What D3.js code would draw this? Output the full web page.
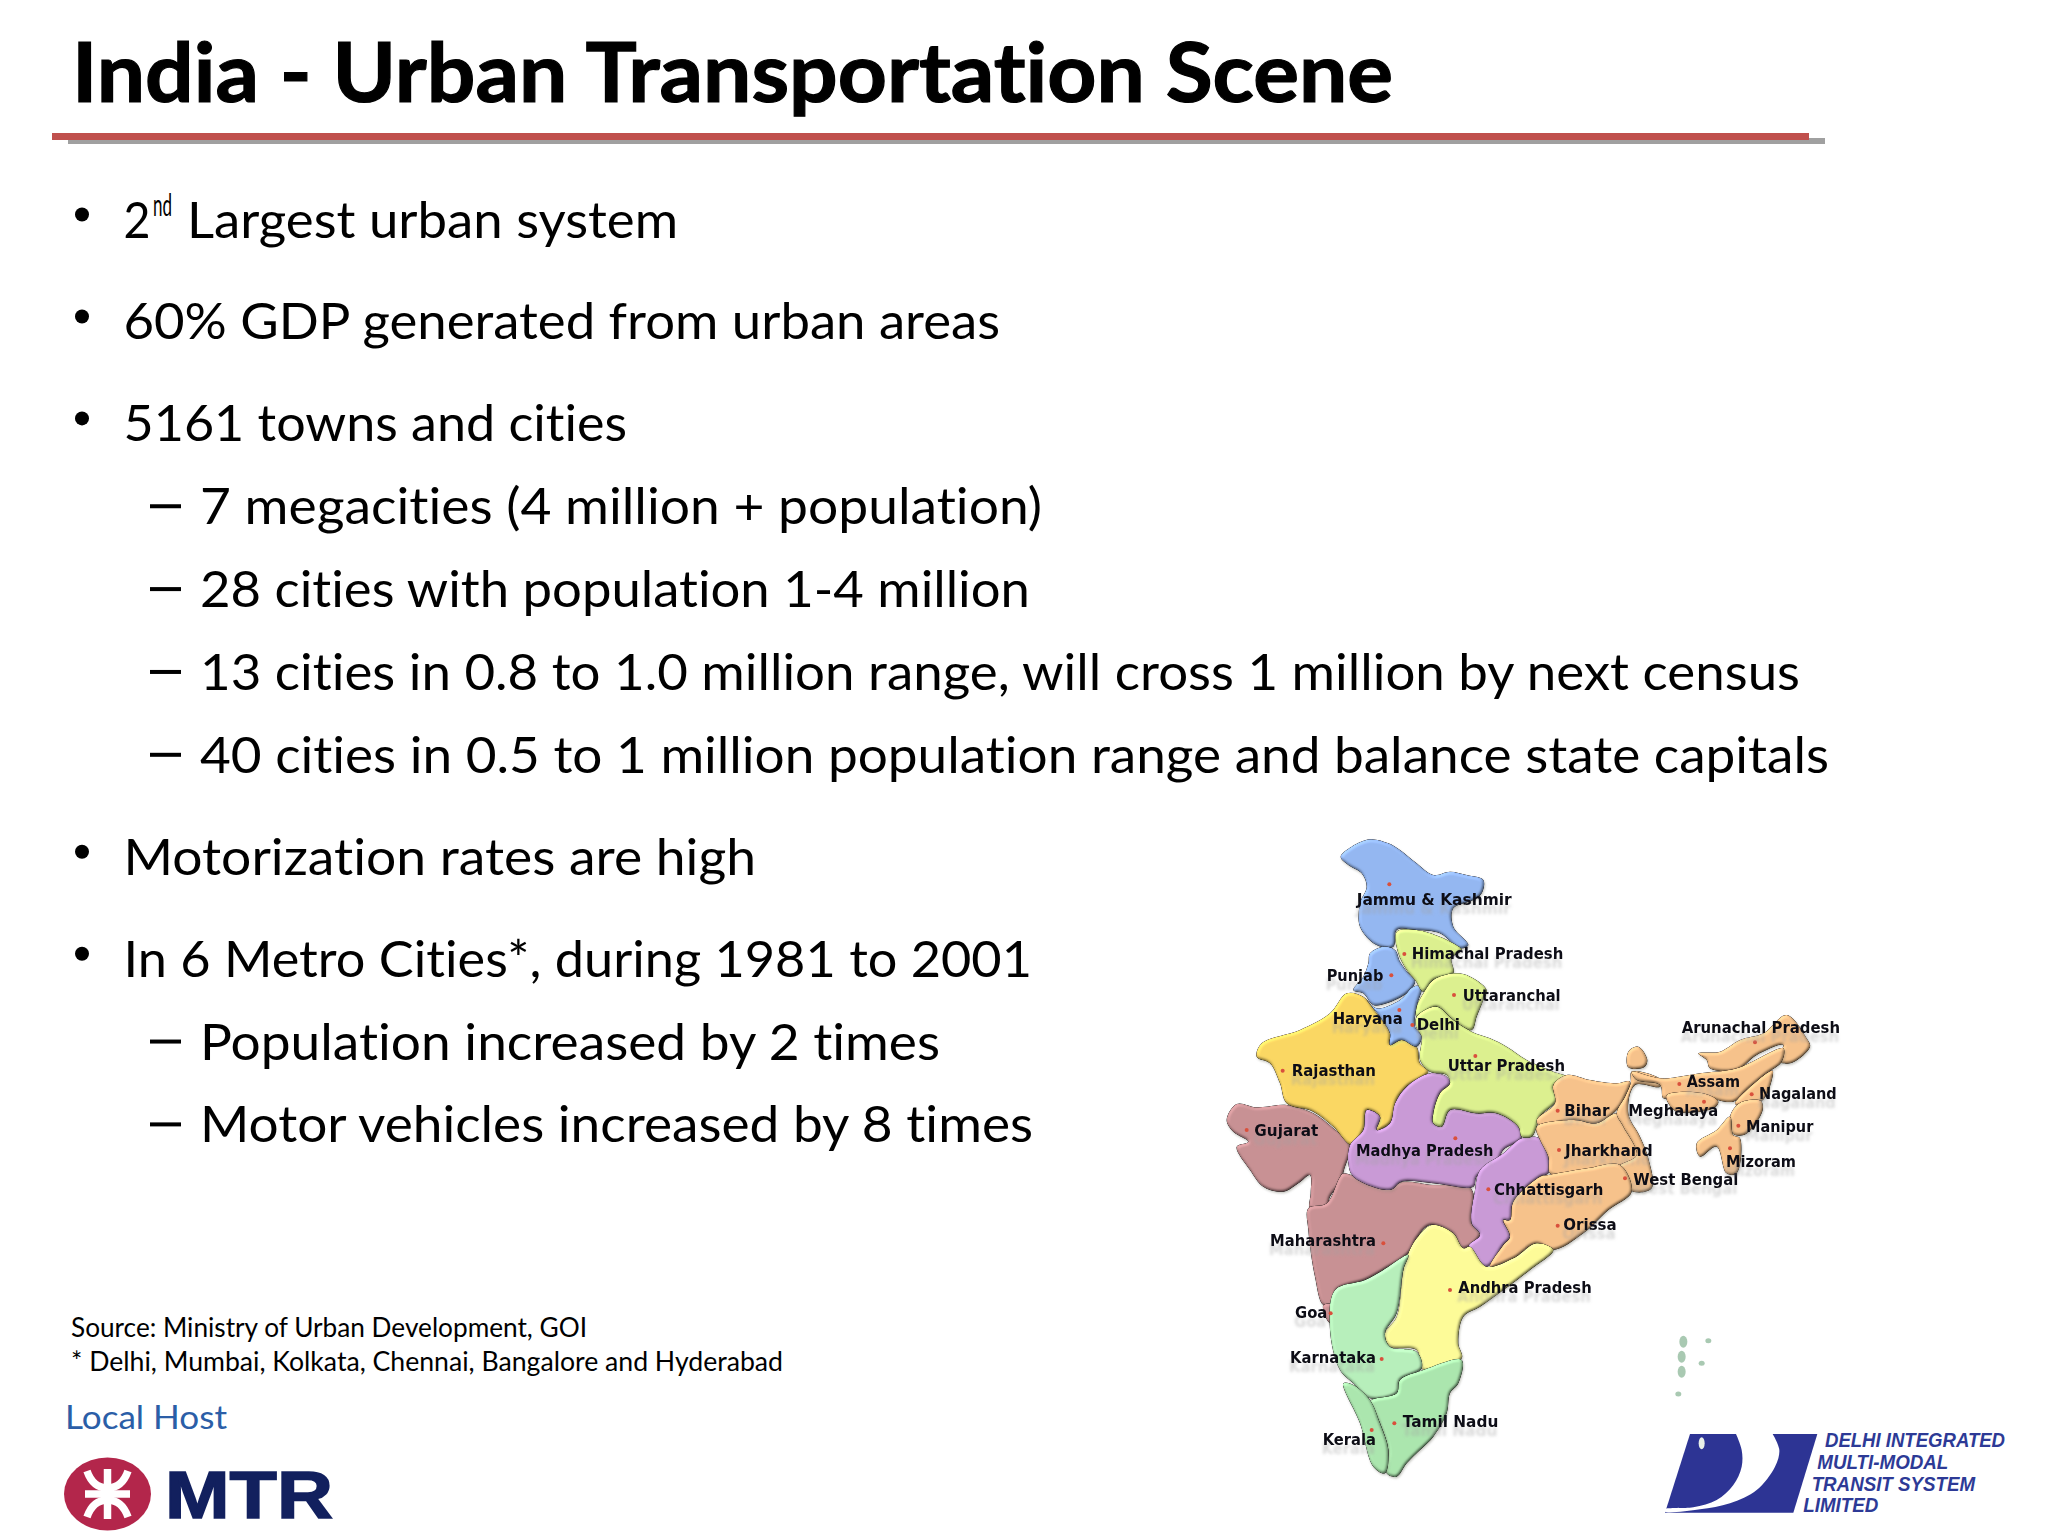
<!DOCTYPE html>
<html>
<head>
<meta charset="utf-8">
<title>India - Urban Transportation Scene</title>
<script src="https://cdn.jsdelivr.net/npm/d3@7"></script>
<style>
  html, body { margin: 0; padding: 0; background: #fff; }
  svg { display: block; }
  text { font-family: Lato, "Open Sans", sans-serif; font-variant-ligatures: none; }
  .st { font-family: "DejaVu Sans", sans-serif; font-weight: bold; }
</style>
</head>
<body>
<div id="slide"></div>
<script>
var width = 2048, height = 1536;

// slide text
var titleText = "India - Urban Transportation Scene";
var lineTexts = [
  "Largest urban system",
  "60% GDP generated from urban areas",
  "5161 towns and cities",
  "7 megacities (4 million + population)",
  "28 cities with population 1-4 million",
  "13 cities in 0.8 to 1.0 million range, will cross 1 million by next census",
  "40 cities in 0.5 to 1 million population range and balance state capitals",
  "Motorization rates are high",
  "In 6 Metro Cities*, during 1981 to 2001",
  "Population increased by 2 times",
  "Motor vehicles increased by 8 times"
];
var lineLevels = [0, 0, 0, 1, 1, 1, 1, 0, 0, 1, 1];
var lineEnds = [678, 1000, 627, 1042, 1030, 1800, 1829, 756, 1032, 940, 1033];
var footTexts = ["Source: Ministry of Urban Development, GOI", "* Delhi, Mumbai, Kolkata, Chennai, Bangalore and Hyderabad"];
var footEnds = [587, 783];
var logoLines = ["DELHI INTEGRATED", "MULTI-MODAL", "TRANSIT SYSTEM", "LIMITED"];
var logoStarts = [495, 472, 455, 430];
var logoEnds = [1035, 865, 945, 655];
var logoBase = [50, 118, 183, 247];

// map: state colours and outlines, in units of the source map picture
var stateNames = ["Gujarat", "Maharashtra", "Goa", "Rajasthan", "Madhya Pradesh", "Chhattisgarh", "Jammu & Kashmir", "Punjab", "Haryana",
  "Himachal Pradesh", "Uttaranchal", "Uttar Pradesh", "Bihar", "Jharkhand", "West Bengal", "Sikkim", "Orissa", "Andhra Pradesh",
  "Karnataka", "Tamil Nadu", "Kerala", "Arunachal Pradesh", "Assam", "Meghalaya", "Nagaland", "Manipur", "Mizoram"];
var stateColors = ["#c89194", "#c89194", "#c89194", "#fad763", "#c99ad6", "#c99ad6", "#94b7f1", "#94b7f1", "#94b7f1",
  "#dcf08f", "#dcf08f", "#dcf08f", "#f6c28b", "#f6c28b", "#f6c28b", "#f6c28b", "#f6c28b", "#fdfb98",
  "#b7efbb", "#abe6ae", "#abe6ae", "#f6c28b", "#f6c28b", "#f6c28b", "#f6c28b", "#f6c28b", "#f6c28b"];
var stateOutlines = [
  [[20,870],[50,822],[110,832],[200,825],[280,850],[340,895],[390,945],[372,1020],[360,1060],[330,1100],[320,1130],[270,1135],[272,1090],[270,1035],[235,1060],[190,1085],[130,1070],[90,1020],[50,950],[85,935],[40,905]],
  [[265,1135],[320,1120],[360,1040],[372,1030],[500,1075],[550,1055],[640,1065],[740,1065],[760,1090],[755,1180],[780,1215],[730,1255],[700,1210],[630,1185],[590,1225],[565,1270],[490,1320],[435,1350],[350,1380],[345,1425],[310,1425],[285,1340],[265,1200]],
  [[310,1425],[345,1425],[340,1480],[325,1475]],
  [[380,490],[430,500],[470,550],[510,610],[510,645],[545,630],[590,650],[600,700],[625,725],[560,770],[530,810],[520,850],[510,880],[470,900],[480,860],[440,840],[430,900],[395,945],[340,890],[280,845],[200,820],[180,760],[150,700],[110,680],[125,640],[240,600],[330,550]],
  [[630,730],[680,740],[690,760],[660,790],[640,850],[640,880],[665,890],[690,840],[770,850],[830,850],[895,890],[905,925],[850,960],[830,1000],[770,1040],[760,1070],[640,1060],[545,1055],[510,1080],[400,1040],[385,1000],[390,945],[430,900],[440,840],[480,860],[470,900],[510,880],[525,820],[560,770]],
  [[905,925],[960,925],[985,980],[985,1030],[960,1040],[880,1115],[870,1170],[850,1170],[870,1220],[850,1245],[800,1310],[745,1250],[780,1215],[755,1180],[765,1080],[780,1020],[850,970]],
  [[362,80],[395,50],[450,28],[505,40],[540,60],[590,100],[640,135],[690,125],[740,135],[790,150],[785,190],[760,210],[700,235],[700,290],[745,345],[720,355],[660,310],[590,300],[530,300],[520,350],[470,345],[420,290],[420,220],[440,170],[425,130],[385,105]],
  [[450,370],[490,350],[525,360],[540,395],[565,430],[585,455],[560,490],[500,520],[460,525],[430,490],[400,480],[430,440],[445,400]],
  [[440,510],[470,535],[540,510],[580,470],[605,470],[590,530],[585,590],[605,620],[590,650],[545,630],[510,645],[510,610],[480,560]],
  [[530,305],[590,300],[660,320],[700,340],[725,360],[695,385],[700,430],[640,450],[610,485],[585,450],[560,420],[535,370]],
  [[640,450],[700,430],[740,435],[800,480],[790,510],[770,560],[755,600],[700,570],[650,530],[590,560],[590,530],[610,490]],
  [[590,560],[650,530],[700,570],[755,605],[810,625],[860,650],[920,690],[1000,725],[1040,740],[1000,770],[1010,810],[960,860],[950,890],[935,920],[905,920],[895,890],[830,850],[770,850],[690,840],[665,890],[640,880],[640,850],[660,790],[690,760],[680,735],[630,725],[600,690],[605,620],[588,590]],
  [[1000,765],[1040,735],[1110,750],[1190,760],[1230,755],[1215,800],[1190,840],[1130,880],[1060,870],[960,890],[950,870],[1005,820]],
  [[950,890],[1060,870],[1130,880],[1190,850],[1230,890],[1270,980],[1200,1010],[1130,1020],[1050,1040],[990,1030],[985,980],[960,930]],
  [[1235,725],[1325,750],[1320,770],[1245,765],[1225,850],[1260,920],[1285,985],[1295,1075],[1240,1085],[1195,1040],[1195,1010],[1250,975],[1210,890],[1190,850],[1215,800],[1232,760]],
  [[1225,665],[1255,650],[1282,690],[1272,712],[1225,712]],
  [[985,1035],[1100,1015],[1200,1005],[1235,1085],[1165,1140],[1090,1210],[1000,1260],[950,1240],[880,1285],[810,1310],[850,1245],[870,1220],[850,1170],[870,1170],[880,1115],[960,1040]],
  [[635,1185],[700,1210],[730,1255],[750,1250],[800,1310],[880,1285],[950,1240],[1000,1260],[930,1320],[850,1380],[780,1430],[730,1460],[715,1540],[725,1585],[610,1620],[590,1560],[510,1550],[495,1510],[530,1460],[550,1320],[565,1270],[590,1225]],
  [[565,1275],[550,1320],[530,1450],[495,1510],[510,1550],[590,1565],[605,1615],[540,1650],[530,1690],[450,1705],[400,1660],[360,1620],[330,1500],[345,1380],[435,1350],[490,1320]],
  [[610,1620],[725,1590],[715,1660],[690,1690],[680,1750],[640,1820],[600,1860],[560,1900],[530,1940],[500,1930],[505,1860],[480,1780],[450,1715],[530,1690],[540,1650]],
  [[400,1665],[450,1710],[480,1780],[505,1860],[495,1930],[460,1910],[420,1780],[370,1660]],
  [[1435,670],[1500,665],[1560,630],[1630,610],[1700,555],[1760,625],[1770,650],[1710,700],[1670,690],[1690,645],[1610,675],[1550,720],[1470,715],[1460,690]],
  [[1235,725],[1325,745],[1440,730],[1550,715],[1690,655],[1685,695],[1640,730],[1580,780],[1540,815],[1450,800],[1360,800],[1330,805],[1320,765],[1250,750]],
  [[1340,795],[1450,790],[1495,815],[1480,835],[1370,845],[1345,820]],
  [[1545,820],[1640,730],[1658,722],[1642,790],[1622,815],[1550,825]],
  [[1530,860],[1560,818],[1622,812],[1628,840],[1578,912],[1540,912]],
  [[1430,940],[1490,900],[1530,860],[1540,915],[1560,925],[1550,1030],[1520,1030],[1490,950],[1440,980]]
];
var islandX = [1390, 1385, 1385, 1465, 1445, 1375];
var islandY = [1535, 1580, 1625, 1532, 1600, 1692];

// state labels: name, left, baseline, right, capital x, capital y
var labelNames = ["Jammu & Kashmir", "Himachal Pradesh", "Punjab", "Uttaranchal", "Haryana", "Delhi", "Rajasthan", "Uttar Pradesh", "Gujarat", "Madhya Pradesh", "Bihar", "Jharkhand", "Chhattisgarh", "Orissa", "West Bengal", "Maharashtra", "Andhra Pradesh", "Goa", "Karnataka", "Tamil Nadu", "Kerala", "Arunachal Pradesh", "Assam", "Meghalaya", "Nagaland", "Manipur", "Mizoram"];
var labelLeft = [410, 575, 320, 728, 338, 590, 215, 683, 103, 408, 1033, 1035, 822, 1030, 1240, 150, 715, 225, 210, 548, 308, 1385, 1400, 1225, 1617, 1578, 1518];
var labelBase = [225, 388, 452, 512, 582, 600, 738, 723, 917, 977, 857, 977, 1095, 1200, 1065, 1248, 1390, 1465, 1598, 1792, 1845, 610, 770, 857, 808, 905, 1010];
var labelRight = [875, 1030, 490, 1022, 548, 720, 468, 1035, 295, 820, 1168, 1298, 1150, 1190, 1555, 468, 1115, 322, 468, 835, 468, 1860, 1560, 1495, 1850, 1780, 1728];
var capitalX = [508, 553, 514, 702, 538, 577, 188, 766, 80, 706, 1013, 1017, 805, 1013, 1215, 490, 690, 332, 485, 523, 455, 1605, 1378, 1452, 1595, 1555, 1530];
var capitalY = [163, 372, 436, 495, 540, 585, 722, 678, 900, 925, 842, 960, 1078, 1187, 1045, 1240, 1380, 1450, 1587, 1780, 1800, 637, 762, 815, 793, 887, 955];

var svg = d3.select("#slide").append("svg")
  .attr("width", width)
  .attr("height", height)
  .attr("viewBox", "0 0 " + width + " " + height);

var defs = svg.append("defs");

// soft bevel + drop shadow for the states
var emboss = defs.append("filter").attr("id", "emboss")
  .attr("x", "-10%").attr("y", "-10%").attr("width", "120%").attr("height", "120%")
  .attr("color-interpolation-filters", "sRGB");
emboss.append("feGaussianBlur").attr("in", "SourceAlpha").attr("stdDeviation", 1.8).attr("result", "soft");
var light = emboss.append("feDiffuseLighting").attr("in", "soft")
  .attr("surfaceScale", 1.5).attr("diffuseConstant", 1).attr("lighting-color", "#fff").attr("result", "lit");
light.append("feDistantLight").attr("azimuth", 235).attr("elevation", 60);
emboss.append("feComposite").attr("in", "SourceGraphic").attr("in2", "lit")
  .attr("operator", "arithmetic").attr("k1", 1.155).attr("k2", 0).attr("k3", 0).attr("k4", 0).attr("result", "shaded");
emboss.append("feComposite").attr("in", "shaded").attr("in2", "SourceAlpha").attr("operator", "in").attr("result", "body");
emboss.append("feDropShadow").attr("in", "SourceAlpha")
  .attr("dx", 0.8).attr("dy", 1.4).attr("stdDeviation", 0.9)
  .attr("flood-color", "#77776a").attr("flood-opacity", 0.45).attr("result", "drop");
var mergeE = emboss.append("feMerge");
mergeE.append("feMergeNode").attr("in", "drop");
mergeE.append("feMergeNode").attr("in", "body");

// label text with its blurred grey ghost below it
var ghost = defs.append("filter").attr("id", "ghost")
  .attr("x", "-10%").attr("y", "-50%").attr("width", "120%").attr("height", "280%");
ghost.append("feOffset").attr("in", "SourceAlpha").attr("dx", -1).attr("dy", 9).attr("result", "off");
ghost.append("feGaussianBlur").attr("in", "off").attr("stdDeviation", 1.5).attr("result", "blur");
ghost.append("feFlood").attr("flood-color", "#a0a0a0").attr("flood-opacity", 0.4).attr("result", "col");
ghost.append("feComposite").attr("in", "col").attr("in2", "blur").attr("operator", "in").attr("result", "shade");
var mergeG = ghost.append("feMerge");
mergeG.append("feMergeNode").attr("in", "shade");
mergeG.append("feMergeNode").attr("in", "SourceGraphic");

// fit text to the width it has in the slide
function fit(sel, w) {
  sel.attr("textLength", w).attr("lengthAdjust", "spacingAndGlyphs");
  return sel;
}

//-------------------------------------------------------
// Title and rule
//-------------------------------------------------------
fit(svg.append("text")
  .attr("x", 72).attr("y", 102)
  .attr("font-size", 83).attr("font-weight", 700).attr("fill", "#000")
  .attr("stroke", "#000").attr("stroke-width", 1.2)
  .text(titleText), 1321);

svg.append("rect").attr("x", 68).attr("y", 138).attr("width", 1757).attr("height", 6).attr("fill", "#a0a0a0");
svg.append("rect").attr("x", 52).attr("y", 133).attr("width", 1757).attr("height", 7).attr("fill", "#c0504d");

//-------------------------------------------------------
// Bullets
//-------------------------------------------------------
var baseline = 237.5;
var rows = lineTexts.map(function(t, i) {
  if (i > 0) baseline += lineLevels[i] === 1 ? 82.85 : 101.95;
  return { text: t, level: lineLevels[i], end: lineEnds[i], y: baseline };
});

function rowX(d, i) {
  return i === 0 ? 187 : (d.level === 1 ? 200 : 123.5);
}

var row = svg.append("g").selectAll("g").data(rows).join("g");

row.filter(function(d) { return d.level === 0; }).append("circle")
  .attr("cx", 82).attr("cy", function(d) { return d.y - 23; }).attr("r", 7).attr("fill", "#000");

row.filter(function(d) { return d.level === 1; }).append("rect")
  .attr("x", 150).attr("y", function(d) { return d.y - 20; }).attr("width", 31).attr("height", 4).attr("fill", "#000");

row.append("text")
  .attr("x", rowX)
  .attr("y", function(d) { return d.y; })
  .attr("font-size", 50).attr("fill", "#000")
  .text(function(d) { return d.text; })
  .attr("textLength", function(d, i) { return d.end - rowX(d, i); })
  .attr("lengthAdjust", "spacingAndGlyphs");

fit(svg.append("text").attr("x", 123.5).attr("y", 237.5).attr("font-size", 50).attr("fill", "#000").text("2"), 27);
fit(svg.append("text").attr("x", 153).attr("y", 216).attr("font-size", 30).attr("fill", "#000").text("nd"), 19);

// source notes
svg.append("g").selectAll("text").data(footTexts).join("text")
  .attr("x", 71)
  .attr("y", function(d, i) { return 1337 + i * 34; })
  .attr("font-size", 26).attr("fill", "#000")
  .text(function(d) { return d; })
  .attr("textLength", function(d, i) { return footEnds[i] - 71; })
  .attr("lengthAdjust", "spacingAndGlyphs");

//-------------------------------------------------------
// Map
//-------------------------------------------------------
var mapX = d3.scaleLinear().domain([0, 1500]).range([1220, 1720]);
var mapY = d3.scaleLinear().domain([0, 1500]).range([830, 1330]);
var stateLine = d3.line()
  .x(function(d) { return mapX(d[0]); })
  .y(function(d) { return mapY(d[1]); })
  .curve(d3.curveCatmullRomClosed.alpha(0.5));

var map = svg.append("g").attr("id", "map");

map.selectAll("path.state").data(stateOutlines).join("path")
  .attr("class", "state")
  .attr("d", stateLine)
  .attr("fill", function(d, i) { return stateColors[i]; })
  .attr("filter", "url(#emboss)")
  .append("title").text(function(d, i) { return stateNames[i]; });

map.selectAll("ellipse.island").data(islandX).join("ellipse")
  .attr("class", "island")
  .attr("cx", function(d) { return mapX(d); })
  .attr("cy", function(d, i) { return mapY(islandY[i]); })
  .attr("rx", function(d, i) { return i < 3 ? 4 : 3; })
  .attr("ry", function(d, i) { return i < 3 ? 6 : 2.5; })
  .attr("fill", "#a9c9b2");

map.selectAll("circle.capital").data(capitalX).join("circle")
  .attr("class", "capital")
  .attr("cx", function(d) { return mapX(d); })
  .attr("cy", function(d, i) { return mapY(capitalY[i]); })
  .attr("r", 2).attr("fill", "#d9503c");

map.selectAll("text.label").data(labelNames).join("text")
  .attr("class", "st label")
  .attr("x", function(d, i) { return mapX(labelLeft[i]); })
  .attr("y", function(d, i) { return mapY(labelBase[i]); })
  .attr("font-size", 15).attr("fill", "#0a0a14")
  .attr("filter", "url(#ghost)")
  .text(function(d) { return d; })
  .attr("textLength", function(d, i) { return mapX(labelRight[i]) - mapX(labelLeft[i]); })
  .attr("lengthAdjust", "spacingAndGlyphs");

//-------------------------------------------------------
// Local host and logos
//-------------------------------------------------------
fit(svg.append("text")
  .attr("x", 65).attr("y", 1429)
  .attr("font-size", 33).attr("fill", "#2b5ea7")
  .text("Local Host"), 162);

var mtr = svg.append("g").attr("id", "mtr");

mtr.append("ellipse")
  .attr("cx", 107.5).attr("cy", 1494).attr("rx", 43.5).attr("ry", 36.5)
  .attr("fill", "#b3264b");

["M87,1471 Q93,1488 107.5,1488 Q122,1488 128,1471",
 "M87,1517 Q93,1500 107.5,1500 Q122,1500 128,1517",
 "M107.5,1469 V1519",
 "M85,1494 H130"].forEach(function(p) {
  mtr.append("path").attr("d", p)
    .attr("fill", "none").attr("stroke", "#fff").attr("stroke-width", 7.5);
});

fit(mtr.append("text")
  .attr("x", 165).attr("y", 1518)
  .style("font-family", "Liberation Sans").attr("font-weight", 700)
  .attr("font-size", 66).attr("fill", "#12205e")
  .attr("stroke", "#12205e").attr("stroke-width", 1.5)
  .text("MTR"), 168);

// DMRC logo, drawn in units of the zoomed crop
var dmrcX = d3.scaleLinear().domain([0, 1164]).range([1660, 2048]);
var dmrcY = d3.scaleLinear().domain([0, 318]).range([1430, 1536]);
var logoLine = d3.line()
  .x(function(d) { return dmrcX(d[0]); })
  .y(function(d) { return dmrcY(d[1]); });

var dmrc = svg.append("g").attr("id", "dmrc");
dmrc.append("path")
  .attr("d", logoLine([[90, 12], [472, 12], [400, 248], [15, 248]]) + "Z")
  .attr("fill", "#2d3494");

var crescent = [[228, 12], [245, 60], [245, 110], [220, 165], [170, 210], [100, 232], [15, 238], [15, 245], [120, 238], [210, 220], [290, 180], [345, 110], [358, 60], [338, 12]];
dmrc.append("path")
  .attr("d", logoLine.curve(d3.curveCatmullRom)(crescent) + "Z")
  .attr("fill", "#fff");

dmrc.append("ellipse")
  .attr("cx", dmrcX(125)).attr("cy", dmrcY(40)).attr("rx", 3).attr("ry", 6)
  .attr("fill", "#e8efe8");

dmrc.selectAll("text").data(logoLines).join("text")
  .attr("x", function(d, i) { return dmrcX(logoStarts[i]); })
  .attr("y", function(d, i) { return dmrcY(logoBase[i]); })
  .style("font-family", "Liberation Sans")
  .attr("font-style", "italic").attr("font-weight", 700)
  .attr("font-size", 20).attr("fill", "#2d3a96")
  .text(function(d) { return d; })
  .attr("textLength", function(d, i) { return dmrcX(logoEnds[i]) - dmrcX(logoStarts[i]); })
  .attr("lengthAdjust", "spacingAndGlyphs");
</script>
</body>
</html>
